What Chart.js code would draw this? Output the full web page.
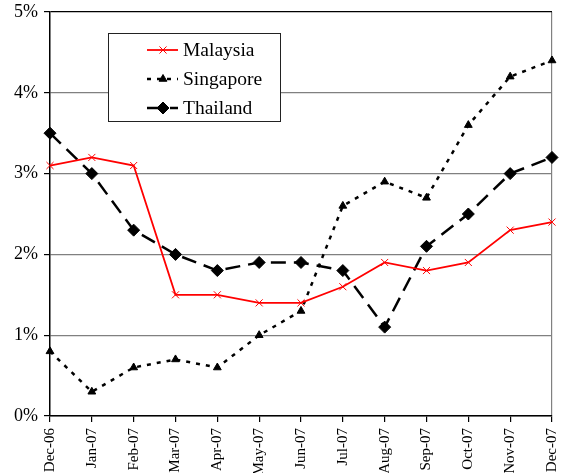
<!DOCTYPE html>
<html lang="en">
<head>
  <meta charset="UTF-8" />
  <title>Inflation: Malaysia, Singapore, Thailand</title>
  <script src="https://cdn.jsdelivr.net/npm/chart.js"></script>
  <style>
    body{margin:0;padding:0;background:#fff;overflow:hidden}
    .wrap{width:570px;height:473px;position:relative}
    .pre{position:absolute;left:-999px;font-family:"Liberation Serif";}
  </style>
</head>
<body>
  <div class="pre">Malaysia 0%</div>
  <div class="wrap"><canvas id="chart"></canvas></div>

<script>
// --- data -----------------------------------------------------------------
const months=['Dec-06','Jan-07','Feb-07','Mar-07','Apr-07','May-07','Jun-07',
              'Jul-07','Aug-07','Sep-07','Oct-07','Nov-07','Dec-07'];
const malaysia =[3.1,3.2,3.1,1.5,1.5,1.4,1.4,1.6,1.9,1.8,1.9,2.3,2.4];
const singapore=[0.8,0.3,0.6,0.7,0.6,1.0,1.3,2.6,2.9,2.7,3.6,4.2,4.4];
const thailand =[3.5,3.0,2.3,2.0,1.8,1.9,1.9,1.8,1.1,2.1,2.5,3.0,3.2];
const yTicks=[0,1,2,3,4,5];

const serif="'Liberation Serif', serif";

// --- legend box drawn in the plot, like the original --------------------
const boxLegend={
  id:'boxLegend',
  afterDraw(chart){
    const ctx=chart.ctx;
    ctx.save();
    ctx.fillStyle='#fff';
    ctx.fillRect(108,33,172,88);
    ctx.strokeStyle='#222';
    ctx.lineWidth=1;
    ctx.strokeRect(108.5,33.5,172,88);
    const rows=[50,79,108];
    chart.data.datasets.forEach((ds,i)=>{
      const y=rows[i];
      ctx.save();
      ctx.strokeStyle=ds.borderColor;
      ctx.lineWidth=ds.borderWidth;
      ctx.setLineDash(ds.borderDash||[]);
      ctx.beginPath();ctx.moveTo(147,y);ctx.lineTo(178,y);ctx.stroke();
      ctx.restore();
      ctx.save();
      ctx.fillStyle=ds.pointBackgroundColor;
      ctx.strokeStyle=ds.pointBorderColor;
      ctx.lineWidth=ds.pointBorderWidth;
      Chart.helpers.drawPoint(ctx,{pointStyle:ds.pointStyle,radius:ds.pointRadius,rotation:0,borderWidth:ds.pointBorderWidth},163,y);
      ctx.restore();
      ctx.fillStyle='#000';
      ctx.font='19.5px '+serif;
      ctx.textBaseline='middle';
      ctx.fillText(ds.label,183,y+1);
    });
    ctx.restore();
  }
};

// --- chart ----------------------------------------------------------------
function draw(){
new Chart(document.getElementById('chart'),{
  type:'line',
  data:{
    labels:months,
    datasets:[
      {label:'Malaysia',data:malaysia,borderColor:'#ff0000',borderWidth:1.8,
       pointStyle:'crossRot',pointRadius:5,pointBorderColor:'#ff0000',pointBackgroundColor:'#ff0000',
       pointBorderWidth:1,tension:0,clip:false},
      {label:'Singapore',data:singapore,borderColor:'#000',borderWidth:2.5,borderDash:[4,6],
       pointStyle:'triangle',pointRadius:4.5,pointBorderColor:'#000',pointBackgroundColor:'#000',
       pointBorderWidth:1,tension:0,clip:false},
      {label:'Thailand',data:thailand,borderColor:'#000',borderWidth:2.5,borderDash:[15,8],
       pointStyle:'rectRot',pointRadius:6,pointBorderColor:'#000',pointBackgroundColor:'#000',
       pointBorderWidth:1,tension:0,clip:false}
    ]
  },
  options:{
    responsive:true,maintainAspectRatio:false,animation:false,
    layout:{padding:{top:12,right:18,left:0,bottom:0}},
    plugins:{legend:{display:false},tooltip:{enabled:false}},
    elements:{point:{hoverRadius:5}},
    scales:{
      x:{
        type:'category',offset:false,
        grid:{
          color:c=>c.index===months.length-1?'#808080':'rgba(0,0,0,0)',
          lineWidth:1.2,tickColor:'#000',tickLength:6,drawOnChartArea:true
        },
        border:{color:'#000',width:1.5},
        ticks:{color:'#000',font:{family:serif,size:15,lineHeight:0.6},minRotation:90,maxRotation:90,
               autoSkip:false,padding:6},
        afterFit(s){s.height=57;}
      },
      y:{
        min:0,max:5,
        afterBuildTicks(s){s.ticks=yTicks.map(v=>({value:v}));},
        grid:{
          color:c=>c.tick&&c.tick.value===5?'#000':'#808080',
          lineWidth:1.2,tickColor:'#000',tickLength:6
        },
        border:{color:'#000',width:1.5},
        ticks:{color:'#000',font:{family:serif,size:18,lineHeight:0.6},padding:6,callback:v=>v+'%'},
        afterFit(s){s.width=50;}
      }
    }
  },
  plugins:[boxLegend]
});
}
document.fonts.load("17px 'Liberation Serif'").then(draw,draw);
</script>
</body>
</html>
